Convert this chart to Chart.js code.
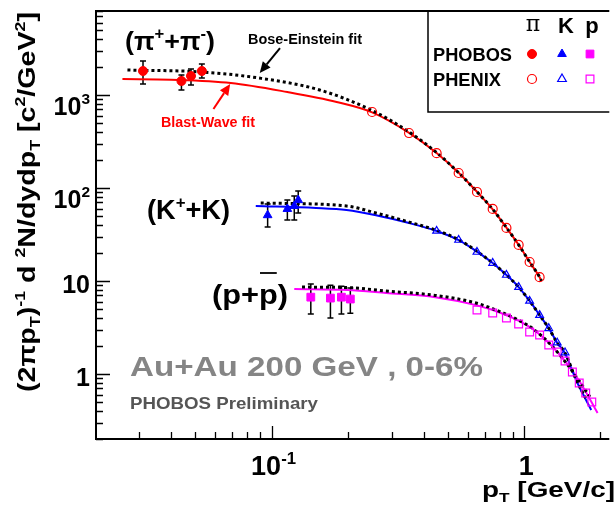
<!DOCTYPE html>
<html>
<head>
<meta charset="utf-8">
<script src="https://cdn.jsdelivr.net/npm/chart.js@4.4.1/dist/chart.umd.min.js"></script>
<style>
  html, body { margin: 0; padding: 0; background: #fff; }
  #wrap { width: 616px; height: 508px; }
</style>
</head>
<body>
<div id="wrap"><canvas id="c" width="616" height="508"></canvas></div>
<script>
// ---- data (pT in GeV/c, yield in c^2/GeV^2) ----
const piPhobosX = [0.031, 0.044, 0.048, 0.053];
const piPhobosY = [1810, 1415, 1600, 1810];
const piPhobosLo = [1313, 1132, 1281, 1526];
const piPhobosHi = [2320, 1640, 1904, 2154];

const kPhobosX = [0.0965, 0.1155, 0.123, 0.1275];
const kPhobosY = [51, 59.5, 64, 74];
const kPhobosLo = [38.1, 45.3, 45.3, 53.8];
const kPhobosHi = [67.3, 74.3, 82, 92.9];

const pPhobosX = [0.143, 0.171, 0.189, 0.205];
const pPhobosY = [6.7, 6.55, 6.7, 6.4];
const pPhobosLo = [4.42, 4.0, 4.42, 4.5];
const pPhobosHi = [9.28, 9.0, 8.8, 8.4];

const piPhenixX = [0.25, 0.35, 0.45, 0.55, 0.65, 0.75, 0.85, 0.95, 1.05, 1.15];
const piPhenixY = [656, 390, 237, 145, 90.6, 59.5, 37.2, 24.4, 16.0, 11.0];

const kPhenixX = [0.45, 0.55, 0.65, 0.75, 0.85, 0.95, 1.05, 1.15, 1.25, 1.35, 1.45];
const kPhenixY = [34.5, 27.6, 20.5, 15.6, 11.6, 8.6, 6.1, 4.3, 3.1, 2.17, 1.7];

const pPhenixX = [0.65, 0.75, 0.85, 0.95, 1.05, 1.15, 1.25, 1.35, 1.45, 1.55, 1.65, 1.75, 1.85];
const pPhenixY = [4.88, 4.53, 4.0, 3.45, 2.83, 2.63, 2.05, 1.72, 1.38, 1.05, 0.80, 0.625, 0.50];

// blast-wave fits (solid)
const piBwX = [0.0257, 0.04, 0.069, 0.1155, 0.181, 0.25, 0.35, 0.45, 0.55, 0.65, 0.75, 0.85, 0.95, 1.05, 1.15, 1.17];
const piBwY = [1486, 1460, 1346, 1076, 841, 650, 392, 238, 146, 91, 59, 37.5, 24.5, 16, 11, 10];
const kBwX = [0.0866, 0.15, 0.198, 0.259, 0.35, 0.45, 0.55, 0.65, 0.75, 0.85, 0.95, 1.05, 1.15, 1.25, 1.35, 1.45, 1.61, 1.84];
const kBwY = [64, 61, 58, 51, 42, 34.5, 27.5, 20.7, 15.6, 11.6, 8.6, 6.1, 4.3, 3.1, 2.17, 1.66, 0.84, 0.41];
const pBwX = [0.123, 0.2, 0.284, 0.445, 0.644, 0.813, 0.939, 1.094, 1.275, 1.47, 1.67, 1.95];
const pBwY = [8.2, 8.0, 7.43, 6.7, 5.5, 4.5, 3.8, 2.97, 2.05, 1.31, 0.80, 0.38];

// Bose-Einstein / thermal fits (dotted)
const piBeX = [0.0269, 0.053, 0.089, 0.155, 0.25, 0.35, 0.45, 0.55, 0.65, 0.75, 0.85, 0.95, 1.05, 1.15, 1.17];
const piBeY = [1857, 1767, 1523, 1132, 680, 400, 240, 146, 91, 59, 37.5, 24.5, 16, 11, 10];
const kBeX = [0.0906, 0.198, 0.259, 0.35, 0.45, 0.55, 0.65, 0.75, 0.85, 0.95, 1.05, 1.15, 1.25, 1.35, 1.45, 1.61, 1.75];
const kBeY = [69, 64, 53.8, 43, 35, 27.8, 20.8, 15.6, 11.6, 8.6, 6.1, 4.3, 3.1, 2.17, 1.68, 0.85, 0.55];
const pBeX = [0.132, 0.2, 0.284, 0.445, 0.644, 0.813, 0.939, 1.094, 1.275, 1.47, 1.67, 1.84];
const pBeY = [8.6, 8.5, 7.8, 7.0, 5.8, 4.6, 3.85, 3.0, 2.05, 1.3, 0.8, 0.54];

// axis ticks
const xTickVals = [0.1, 1];
const xTickLabels = ['10^-1', '1'];
const yTickVals = [1, 10, 100, 1000];
const yTickLabels = ['1', '10', '10^2', '10^3'];

const RED = '#ff0000', BLUE = '#0000ff', MAG = '#ff00ff';
const FONT = '"Liberation Sans", Arial, sans-serif';

const pts = (xs, ys) => xs.map((x, i) => ({ x, y: ys[i] }));

// text made of runs: [text, mode] where mode '' | '^' | '_'
function runsWidth(ctx, runs, size) {
    let w = 0;
    runs.forEach(([t, m]) => {
        ctx.font = `bold ${m ? size * 0.62 : size}px ${FONT}`;
        w += ctx.measureText(t).width;
    });
    return w;
}

function drawRuns(ctx, runs, x, y, o) {
    const size = o.size;
    const w = runsWidth(ctx, runs, size);
    const sx = o.width ? o.width / w : 1;
    let x0 = x;
    if (o.align === 'right') x0 = x - w * sx;
    else if (o.align === 'center') x0 = x - w * sx / 2;
    ctx.save();
    ctx.translate(x0, y);
    ctx.scale(sx, 1);
    ctx.fillStyle = o.color || '#000';
    ctx.textBaseline = 'alphabetic';
    ctx.textAlign = 'left';
    let cx = 0;
    runs.forEach(([t, m]) => {
        const fs = m ? size * 0.62 : size;
        ctx.font = `bold ${fs}px ${FONT}`;
        const dy = m === '^' ? -size * 0.42 : m === '_' ? size * 0.22 : 0;
        ctx.fillText(t, cx, dy);
        cx += ctx.measureText(t).width;
    });
    ctx.restore();
    return sx;
}

function parseTick(s) {
    const parts = s.split('^');
    return parts.length > 1 ? [[parts[0], ''], [parts[1], '^']] : [[s, '']];
}

function drawArrow(ctx, x1, y1, x2, y2, color) {
    const a = Math.atan2(y2 - y1, x2 - x1);
    const hl = 11, hw = 5;
    ctx.save();
    ctx.strokeStyle = color;
    ctx.fillStyle = color;
    ctx.lineWidth = 2;
    ctx.beginPath();
    ctx.moveTo(x1, y1);
    ctx.lineTo(x2 - hl * Math.cos(a), y2 - hl * Math.sin(a));
    ctx.stroke();
    ctx.beginPath();
    ctx.moveTo(x2, y2);
    ctx.lineTo(x2 - hl * Math.cos(a) + hw * Math.sin(a), y2 - hl * Math.sin(a) - hw * Math.cos(a));
    ctx.lineTo(x2 - hl * Math.cos(a) - hw * Math.sin(a), y2 - hl * Math.sin(a) + hw * Math.cos(a));
    ctx.closePath();
    ctx.fill();
    ctx.restore();
}

const errorBars = {
    id: 'errorBars',
    beforeDatasetsDraw(chart) {
        const ctx = chart.ctx, xs = chart.scales.x, ys = chart.scales.y;
        const sets = [
            [piPhobosX, piPhobosLo, piPhobosHi],
            [kPhobosX, kPhobosLo, kPhobosHi],
            [pPhobosX, pPhobosLo, pPhobosHi]
        ];
        ctx.save();
        ctx.strokeStyle = '#000';
        ctx.lineWidth = 1.5;
        sets.forEach(([xv, lo, hi]) => {
            xv.forEach((x, i) => {
                const px = xs.getPixelForValue(x);
                const y1 = ys.getPixelForValue(lo[i]);
                const y2 = ys.getPixelForValue(hi[i]);
                ctx.beginPath();
                ctx.moveTo(px, y1); ctx.lineTo(px, y2);
                ctx.moveTo(px - 3, y1); ctx.lineTo(px + 3, y1);
                ctx.moveTo(px - 3, y2); ctx.lineTo(px + 3, y2);
                ctx.stroke();
            });
        });
        ctx.restore();
    }
};

const frame = {
    id: 'frame',
    afterDraw(chart) {
        const ctx = chart.ctx, xs = chart.scales.x, ys = chart.scales.y;
        const { left, right, top, bottom } = chart.chartArea;

        // ticks
        ctx.save();
        ctx.strokeStyle = '#000';
        ctx.lineWidth = 1.3;
        ctx.beginPath();
        for (let e = -1; e <= 3; e++) {
            for (let m = 1; m <= 9; m++) {
                const v = m * Math.pow(10, e);
                if (v < ys.min || v > ys.max) continue;
                const py = Math.round(ys.getPixelForValue(v)) + 0.5;
                ctx.moveTo(left, py);
                ctx.lineTo(left + (m === 1 ? 14 : 7), py);
            }
        }
        for (let e = -2; e <= 0; e++) {
            for (let m = 1; m <= 9; m++) {
                const v = m * Math.pow(10, e);
                if (v < xs.min || v > xs.max) continue;
                const px = Math.round(xs.getPixelForValue(v)) + 0.5;
                ctx.moveTo(px, bottom);
                ctx.lineTo(px, bottom - (m === 1 ? 13 : 7));
            }
        }
        ctx.stroke();

        // frame
        ctx.lineWidth = 2;
        ctx.beginPath();
        ctx.moveTo(right, top); ctx.lineTo(left, top);
        ctx.lineTo(left, bottom); ctx.lineTo(right, bottom);
        ctx.stroke();

        // legend box
        ctx.lineWidth = 1.5;
        ctx.beginPath();
        ctx.moveTo(428, top); ctx.lineTo(428, 112); ctx.lineTo(right, 112);
        ctx.stroke();
        ctx.restore();

        // tick labels
        yTickVals.forEach((v, i) => {
            const py = ys.getPixelForValue(v);
            const runs = parseTick(yTickLabels[i]);
            drawRuns(ctx, runs, 90, py + (runs.length > 1 ? 20 : 12.5), { size: 25, align: 'right' });
        });
        xTickVals.forEach((v, i) => {
            const px = xs.getPixelForValue(v);
            const runs = parseTick(xTickLabels[i]);
            drawRuns(ctx, runs, px + 2, 475, { size: 27, align: 'center' });
        });

        // axis titles
        drawRuns(ctx, [['p', ''], ['T', '_'], [' [GeV/c]', '']], 615, 497, { size: 22, align: 'right', width: 133 });
        ctx.save();
        ctx.translate(35, 202);
        ctx.rotate(-Math.PI / 2);
        drawRuns(ctx, [['(2\u03c0p', ''], ['T', '_'], [')', ''], ['-1', '^'], [' d ', ''], ['2', '^'],
            ['N/dydp', ''], ['T', '_'], [' [c', ''], ['2', '^'], ['/GeV', ''], ['2', '^'], [']', '']],
            0, 0, { size: 24, align: 'center', width: 380 });
        ctx.restore();

        // particle labels
        drawRuns(ctx, [['(\u03c0', ''], ['+', '^'], ['+\u03c0', ''], ['-', '^'], [')', '']], 125, 50, { size: 26, width: 90 });
        drawRuns(ctx, [['(K', ''], ['+', '^'], ['+K)', '']], 147, 219, { size: 27, width: 83 });
        const psx = drawRuns(ctx, [['(p+p)', '']], 212, 304, { size: 28, width: 76 });
        ctx.font = `bold 28px ${FONT}`;
        const ob1 = 212 + ctx.measureText('(p+').width * psx;
        const ob2 = ob1 + ctx.measureText('p').width * psx;
        ctx.save();
        ctx.strokeStyle = '#000';
        ctx.lineWidth = 1.8;
        ctx.beginPath();
        ctx.moveTo(ob1 + 1, 273); ctx.lineTo(ob2 - 1, 273);
        ctx.stroke();
        ctx.restore();

        // fit annotations
        drawRuns(ctx, [['Bose-Einstein fit', '']], 248, 44, { size: 14, width: 114 });
        drawRuns(ctx, [['Blast-Wave fit', '']], 161, 127, { size: 14, width: 94, color: RED });
        drawArrow(ctx, xs.getPixelForValue(0.108), ys.getPixelForValue(3200),
            xs.getPixelForValue(0.0898), ys.getPixelForValue(1725), '#000');
        drawArrow(ctx, xs.getPixelForValue(0.0589), ys.getPixelForValue(707),
            xs.getPixelForValue(0.0686), ys.getPixelForValue(1313), RED);

        // system label
        drawRuns(ctx, [['Au+Au 200 GeV , 0-6%', '']], 130, 376, { size: 27, width: 353, color: '#858585' });
        drawRuns(ctx, [['PHOBOS Preliminary', '']], 130, 409, { size: 17, width: 188, color: '#555555' });

        // legend
        ctx.save();
        ctx.fillStyle = '#000';
        ctx.font = `22px "DejaVu Serif", serif`;
        ctx.textAlign = 'center';
        ctx.fillText('\u03c0', 533, 31);
        ctx.restore();
        drawRuns(ctx, [['K', '']], 566, 33, { size: 22, align: 'center' });
        drawRuns(ctx, [['p', '']], 592, 33, { size: 22, align: 'center' });
        drawRuns(ctx, [['PHOBOS', '']], 433, 61, { size: 18, width: 79 });
        drawRuns(ctx, [['PHENIX', '']], 433, 86, { size: 18, width: 68 });
        const mk = [
            ['circle', 4.5, RED, 532], ['triangle', 5, BLUE, 562], ['rect', 5.5, MAG, 590]
        ];
        mk.forEach(([style, r, col, mx]) => {
            ctx.save();
            ctx.fillStyle = col; ctx.strokeStyle = col; ctx.lineWidth = 1;
            Chart.helpers.drawPoint(ctx, { pointStyle: style, radius: r, rotation: 0, borderWidth: 1 }, mx, 54);
            ctx.fillStyle = 'rgba(0,0,0,0)'; ctx.lineWidth = 1.2;
            Chart.helpers.drawPoint(ctx, { pointStyle: style, radius: r, rotation: 0, borderWidth: 1.2 }, mx, 79);
            ctx.restore();
        });
    }
};

const filled = (label, xs, ys, style, r, col) => ({
    label, data: pts(xs, ys), showLine: false, pointStyle: style, pointRadius: r,
    backgroundColor: col, borderColor: col, borderWidth: 1
});
const open = (label, xs, ys, style, r, col) => ({
    label, data: pts(xs, ys), showLine: false, pointStyle: style, pointRadius: r,
    backgroundColor: 'rgba(0,0,0,0)', borderColor: col, borderWidth: 1.2
});
const curve = (label, xs, ys, col, w, dash) => ({
    label, data: pts(xs, ys), showLine: true, pointRadius: 0, borderColor: col,
    backgroundColor: col, borderWidth: w, borderDash: dash, cubicInterpolationMode: 'monotone', fill: false
});

new Chart(document.getElementById('c'), {
    type: 'scatter',
    data: {
        datasets: [
            filled('PHOBOS pi', piPhobosX, piPhobosY, 'circle', 4.5, RED),
            filled('PHOBOS K', kPhobosX, kPhobosY, 'triangle', 5, BLUE),
            filled('PHOBOS p', pPhobosX, pPhobosY, 'rect', 5.5, MAG),
            open('PHENIX pi', piPhenixX, piPhenixY, 'circle', 4.5, RED),
            open('PHENIX K', kPhenixX, kPhenixY, 'triangle', 4.5, BLUE),
            open('PHENIX p', pPhenixX, pPhenixY, 'rect', 5.5, MAG),
            curve('BE pi', piBeX, piBeY, '#000', 3, [3, 3]),
            curve('BE K', kBeX, kBeY, '#000', 3, [3, 3]),
            curve('BE p', pBeX, pBeY, '#000', 3, [3, 3]),
            curve('BW pi', piBwX, piBwY, RED, 2, []),
            curve('BW K', kBwX, kBwY, BLUE, 2, []),
            curve('BW p', pBwX, pBwY, MAG, 2, [])
        ]
    },
    options: {
        responsive: false,
        devicePixelRatio: 1,
        animation: false,
        layout: { padding: { left: 96, right: 0, top: 11, bottom: 69 } },
        scales: {
            x: { type: 'logarithmic', min: 0.0202, max: 2.17, display: false },
            y: { type: 'logarithmic', min: 0.2, max: 8000, display: false }
        },
        plugins: { legend: { display: false }, tooltip: { enabled: false } }
    },
    plugins: [errorBars, frame]
});
</script>
</body>
</html>
